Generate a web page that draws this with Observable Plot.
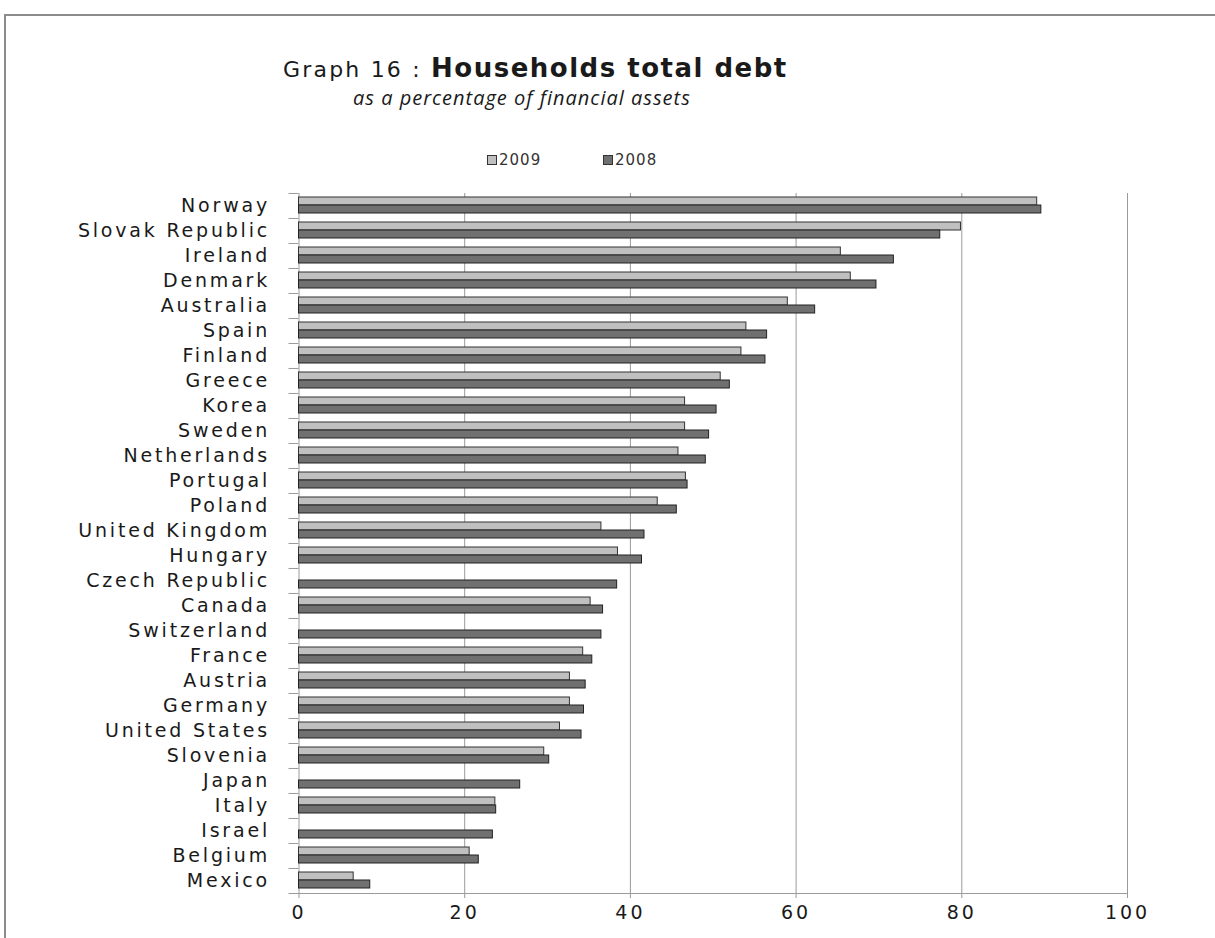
<!DOCTYPE html>
<html>
<head>
<meta charset="utf-8">
<script src="https://cdn.jsdelivr.net/npm/d3@7"></script>
<script src="https://cdn.jsdelivr.net/npm/@observablehq/plot@0.6"></script>
<style>
  html, body { margin: 0; padding: 0; background: #fff; }
  body { width: 1215px; height: 938px; overflow: hidden; position: relative; font-family: "DejaVu Sans", sans-serif; color: #1a1a1a; }
  #frame { position: absolute; left: 4px; top: 14px; width: 1300px; height: 1000px; border-top: 2px solid #8c8c8c; border-left: 2px solid #8c8c8c; z-index: 2; pointer-events: none; }
  #title { position: absolute; left: 283px; top: 53px; line-height: 30px; white-space: nowrap; }
  #title .pre { font-size: 22px; letter-spacing: 2.2px; }
  #title .main { font-size: 26px; font-weight: bold; letter-spacing: 1.5px; }
  #subtitle { position: absolute; left: 353px; top: 85px; line-height: 26px; font-family: "Open Sans", sans-serif; font-style: italic; font-size: 20px; letter-spacing: 1px; white-space: nowrap; }
  .sw { position: absolute; width: 8px; height: 8px; border: 1px solid #333; }
  .lt { position: absolute; font-size: 15px; line-height: 18px; letter-spacing: 1px; color: #333; }
  #chart { position: absolute; left: 0; top: 183px; }
  #chart g[aria-label="y-axis tick label"] text { letter-spacing: 2.8px; }
  #chart g[aria-label="x-axis tick label"] text { letter-spacing: 3px; }
</style>
</head>
<body>
<div id="frame"></div>
<div id="title"><span class="pre">Graph 16 : </span><span class="main">Households total debt</span></div>
<div id="subtitle">as a percentage of financial assets</div>
<div class="sw" style="left:487px;top:155px;background:#c0c0c0;"></div>
<div class="lt" style="left:499px;top:151px;">2009</div>
<div class="sw" style="left:603px;top:155px;background:#707070;"></div>
<div class="lt" style="left:615px;top:151px;">2008</div>
<div id="chart"></div>
<script>
const countries = ["Norway","Slovak Republic","Ireland","Denmark","Australia","Spain","Finland","Greece","Korea","Sweden","Netherlands","Portugal","Poland","United Kingdom","Hungary","Czech Republic","Canada","Switzerland","France","Austria","Germany","United States","Slovenia","Japan","Italy","Israel","Belgium","Mexico"];
const debt2009 = [89.1,79.9,65.4,66.6,59.0,54.0,53.4,50.9,46.6,46.6,45.8,46.7,43.3,36.5,38.5,null,35.2,null,34.3,32.7,32.7,31.5,29.6,null,23.7,null,20.6,6.6];
const debt2008 = [89.6,77.4,71.8,69.7,62.3,56.5,56.3,52.0,50.4,49.5,49.1,46.9,45.6,41.7,41.4,38.4,36.7,36.5,35.4,34.6,34.4,34.1,30.2,26.7,23.8,23.4,21.7,8.6];
const xTicks = [0, 20, 40, 60, 80, 100];
const gridTicks = [20, 40, 60, 80, 100];

const rows = countries.map((c, i) => ({country: c, v2009: debt2009[i], v2008: debt2008[i]}));
const rows2009 = rows.filter(d => d.v2009 != null);

const gray = "#9a9a9a";
const chart = Plot.plot({
  width: 1215,
  height: 751,
  marginLeft: 298.5,
  marginRight: 88,
  marginTop: 10,
  marginBottom: 41,
  x: {domain: [0, 100]},
  y: {domain: countries, padding: 0, round: false},
  style: {fontFamily: "DejaVu Sans, sans-serif", background: "transparent", color: "#1a1a1a"},
  marks: [
    Plot.gridX(gridTicks, {stroke: gray, strokeOpacity: 1}),
    Plot.ruleX([0], {stroke: gray}),
    Plot.ruleY(countries, {y: d => d, x1: -1.2, x2: 0, dy: -12.52, stroke: gray}),
    Plot.ruleY([countries[countries.length - 1]], {y: d => d, x1: -1.2, x2: 100, dy: 12.52, stroke: gray}),
    Plot.barX(rows2009, {x: "v2009", y: "country", fill: "#c0c0c0", stroke: "#333", strokeWidth: 1, insetTop: 4, insetBottom: 13}),
    Plot.barX(rows, {x: "v2008", y: "country", fill: "#707070", stroke: "#222", strokeWidth: 1, insetTop: 12, insetBottom: 5}),
    Plot.axisX({ticks: xTicks, tickSize: 5, tickPadding: 7, fontSize: 19, stroke: gray, color: "#1a1a1a", label: null}),
    Plot.axisY({tickSize: 0, tickPadding: 29, fontSize: 19, color: "#1a1a1a", label: null})
  ]
});
document.getElementById("chart").appendChild(chart);
</script>
</body>
</html>
